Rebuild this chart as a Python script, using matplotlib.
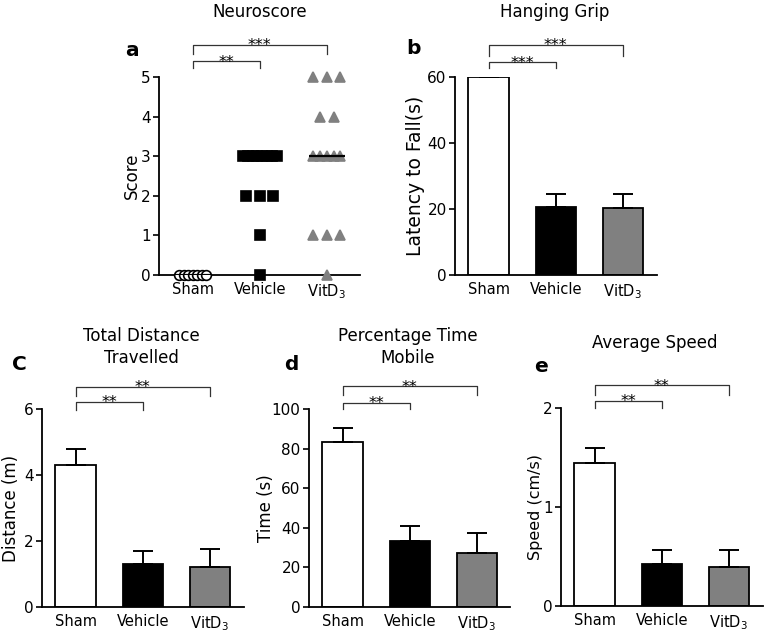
"""
Neuroscore / hanging grip / open field panels (a-e).
Saves out.png
"""
import matplotlib
matplotlib.use("Agg")
import matplotlib.pyplot as plt
import numpy as np

plt.rcParams["font.family"] = "DejaVu Sans"
plt.rcParams["mathtext.fontset"] = "dejavusans"

# ── data ──────────────────────────────────────────────────────────────
GROUPS = ["Sham", "Vehicle", r"VitD$_3$"]
BAR_COLORS = ["white", "black", "#808080"]

# a: individual neuroscores
SCORE_SHAM = [0, 0, 0, 0, 0, 0, 0]
SCORE_VEH = [3, 3, 3, 3, 3, 3, 3, 3, 2, 2, 2, 1, 0]
SCORE_VIT = [5, 5, 5, 4, 4, 3, 3, 3, 3, 3, 1, 1, 1, 0]

# b-e: mean and SEM
GRIP_MEAN = [60.0, 20.7, 20.3]
GRIP_SEM = [0.0, 3.9, 4.2]
DIST_MEAN = [4.30, 1.29, 1.22]
DIST_SEM = [0.50, 0.42, 0.53]
MOBILE_MEAN = [83.5, 33.5, 27.3]
MOBILE_SEM = [7.1, 7.2, 10.2]
SPEED_MEAN = [1.44, 0.42, 0.39]
SPEED_SEM = [0.16, 0.15, 0.18]

AX_W, AX_H = 201.5 / 767, 198 / 636


def px_ax(x, y_top):
    # axes rect from pixel left / pixel y of the top of the plot area
    return [x / 767, 1 - (y_top + 198) / 636, AX_W, AX_H]


def style(ax, ylim, yticks, ylabel, lsize=12, lpad=3):
    for s in ["top", "right"]:
        ax.spines[s].set_visible(False)
    for s in ["left", "bottom"]:
        ax.spines[s].set_linewidth(1.3)
    ax.set_xlim(-0.5, 2.5)
    ax.set_ylim(*ylim)
    ax.set_yticks(yticks)
    ax.set_xticks(range(3))
    ax.set_xticklabels(GROUPS, fontsize=10.5)
    ax.tick_params(axis="x", length=0, pad=5)
    ax.tick_params(axis="y", direction="out", length=4, width=1.2, labelsize=11, pad=2)
    ax.set_ylabel(ylabel, fontsize=lsize, labelpad=lpad)


def bracket(ax, x1, y, drop, stars):
    tr = ax.get_xaxis_transform()
    ax.plot([0, 0, x1, x1], [y - drop, y, y, y - drop], transform=tr,
            color="#333333", lw=0.9, clip_on=False)
    ax.annotate(stars, xy=(x1 / 2, y), xycoords=tr, xytext=(0, -4),
                textcoords="offset points", ha="center", va="baseline",
                fontsize=11.5)


def offsets(values, max_w):
    vals = np.asarray(values)
    out = np.zeros(len(vals))
    for v in np.unique(vals):
        idx = np.where(vals == v)[0]
        n = len(idx)
        if n > 1:
            step = min(0.2, max_w / (n - 1))
            out[idx] = (np.arange(n) - (n - 1) / 2) * step
    return out


def bars(ax, mean, sem):
    x = np.arange(3)
    ax.bar(x, mean, width=0.6, color=BAR_COLORS, edgecolor="black",
           linewidth=1.3, zorder=2)
    ax.errorbar(x, mean, yerr=[np.zeros(3), sem], fmt="none", ecolor="black",
                elinewidth=1.4, capsize=7.5, capthick=1.4, zorder=3)


fig = plt.figure(figsize=(7.67, 6.36), dpi=100)
fig.patch.set_facecolor("white")

# ── a: neuroscore ─────────────────────────────────────────────────────
ax = fig.add_axes(px_ax(159, 77))
specs = [(SCORE_SHAM, "o", "white", "black", 7, 0.4),
         (SCORE_VEH, "s", "black", "black", 7, 0.5),
         (SCORE_VIT, "^", "#808080", "#808080", 7, 0.4)]
for i, (vals, mk, fc, ec, ms, w) in enumerate(specs):
    ax.plot(i + offsets(vals, w), vals, ls="none", marker=mk, ms=ms,
            mfc=fc, mec=ec, mew=1.2, clip_on=False, zorder=3)
    ax.hlines(np.median(vals), i - 0.27, i + 0.27, color="black", lw=1.6, zorder=4)
style(ax, (0, 5), range(0, 6), "Score", lpad=0)
bracket(ax, 2, 1.162, 0.046, "***")
bracket(ax, 1, 1.081, 0.036, "**")

# ── b: hanging grip ───────────────────────────────────────────────────
ax = fig.add_axes(px_ax(455, 77))
bars(ax, GRIP_MEAN, GRIP_SEM)
style(ax, (0, 60), [0, 20, 40, 60], "Latency to Fall(s)", lsize=13.5, lpad=2)
bracket(ax, 2, 1.162, 0.058, "***")
bracket(ax, 1, 1.076, 0.031, "***")

# ── c-e: open field ───────────────────────────────────────────────────
ax = fig.add_axes(px_ax(42, 409))
bars(ax, DIST_MEAN, DIST_SEM)
style(ax, (0, 6), [0, 2, 4, 6], "Distance (m)", lpad=3)
bracket(ax, 2, 1.113, 0.047, "**")
bracket(ax, 1, 1.037, 0.042, "**")

ax = fig.add_axes(px_ax(309, 409))
bars(ax, MOBILE_MEAN, MOBILE_SEM)
style(ax, (0, 100), range(0, 101, 20), "Time (s)", lpad=-2)
bracket(ax, 2, 1.116, 0.045, "**")
bracket(ax, 1, 1.032, 0.032, "**")

ax = fig.add_axes(px_ax(561, 408))
bars(ax, SPEED_MEAN, SPEED_SEM)
style(ax, (0, 2), [0, 1, 2], "Speed (cm/s)", lsize=11.5, lpad=0)
bracket(ax, 2, 1.116, 0.050, "**")
bracket(ax, 1, 1.037, 0.037, "**")

# ── titles and panel letters ──────────────────────────────────────────
def ftext(x, y, s, **kw):
    fig.text(x / 767, 1 - y / 636, s, ha="center", va="center", **kw)

ftext(260, 12, "Neuroscore", fontsize=12)
ftext(555, 12, "Hanging Grip", fontsize=12)
ftext(141, 347, "Total Distance\nTravelled", fontsize=12, linespacing=1.35)
ftext(408, 347, "Percentage Time\nMobile", fontsize=12, linespacing=1.35)
ftext(655, 343, "Average Speed", fontsize=12)

for x, y, s in [(132, 50, "a"), (413, 49, "b"), (19, 365, "C"),
                (291, 364, "d"), (541, 366, "e")]:
    ftext(x, y, s, fontsize=14.5, fontweight="bold")

fig.savefig("out.png", dpi=100, facecolor="white")
plt.close(fig)
